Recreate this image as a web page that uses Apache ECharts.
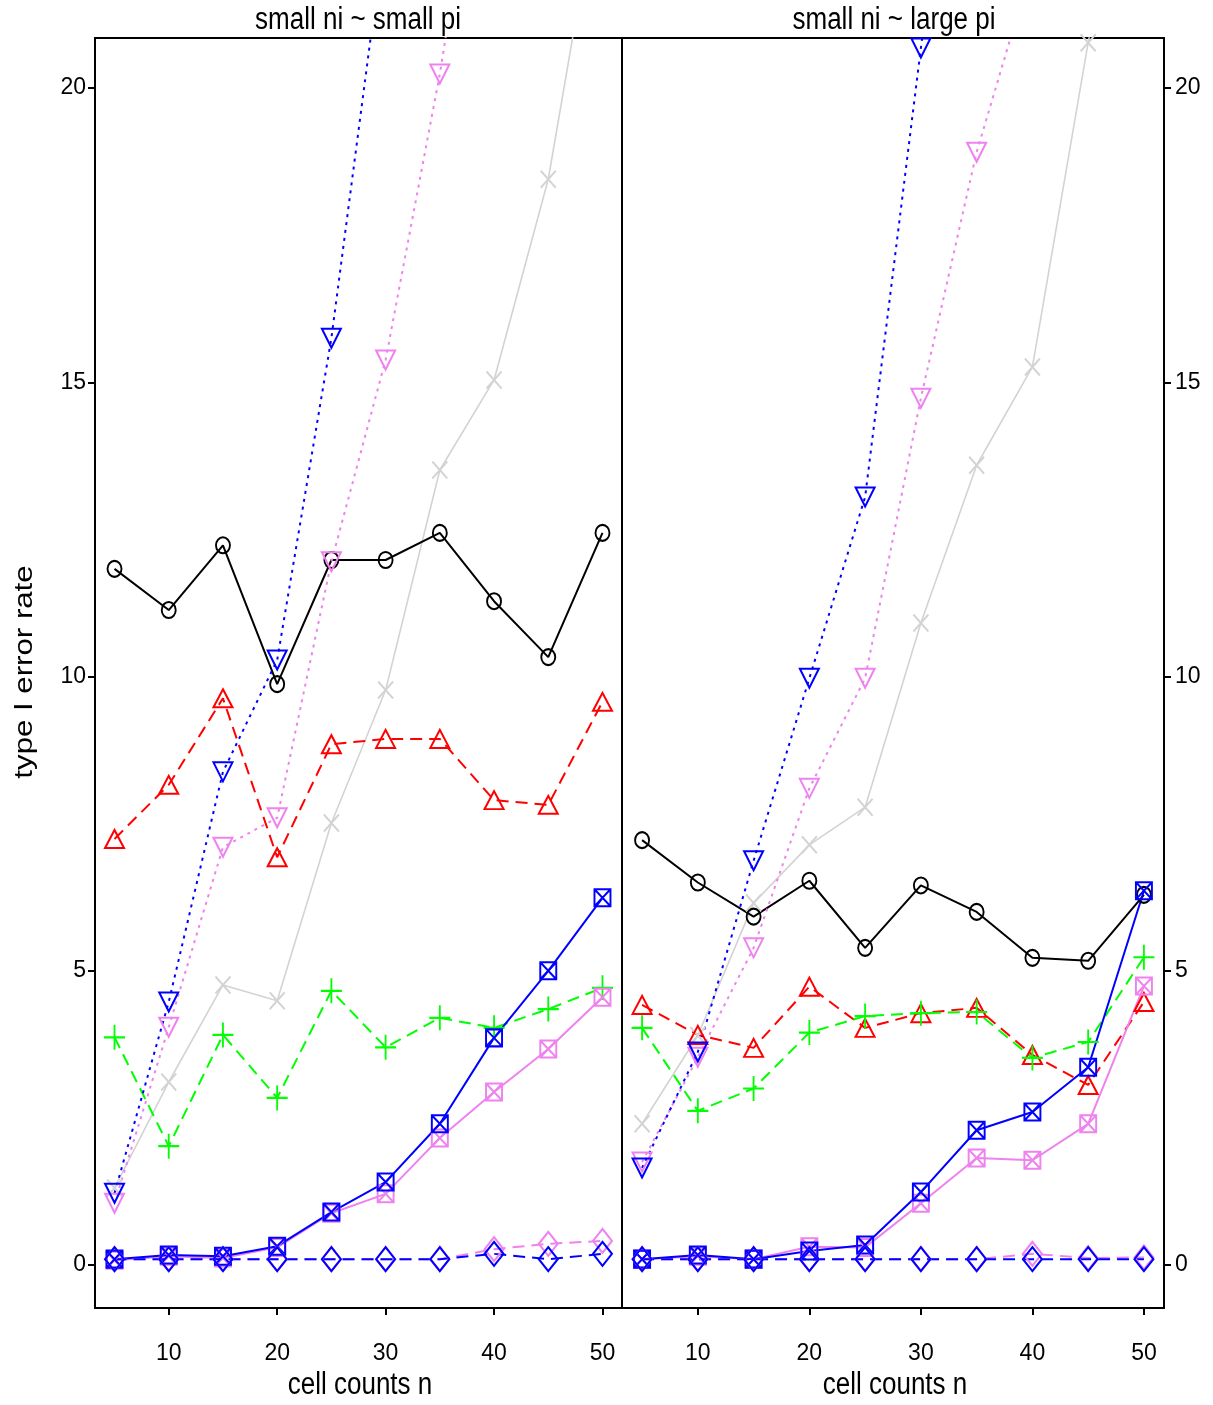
<!DOCTYPE html>
<html>
<head>
<meta charset="utf-8">
<script src="https://cdn.jsdelivr.net/npm/echarts@6/dist/echarts.min.js"></script>
<style>
html,body{margin:0;padding:0;background:#fff;}
#chart{width:1213px;height:1405px;}
</style>
</head>
<body>
<div id="chart"></div>
<script>
// ---------- data ----------
const cellCounts = [5, 10, 15, 20, 25, 30, 35, 40, 45, 50];
const panelTitles = ['small ni ~ small pi', 'small ni ~ large pi'];
const xTickValues = [10, 20, 30, 40, 50];
const yTickValues = [0, 5, 10, 15, 20];

// panel 1: small ni ~ small pi
const leftCircle        = [11.83, 11.13, 12.23, 9.87, 11.98, 11.98, 12.44, 11.28, 10.33, 12.44];
const leftTriangle      = [7.24, 8.16, 9.63, 6.93, 8.85, 8.94, 8.94, 7.90, 7.82, 9.57];
const leftPlus          = [3.87, 2.02, 3.91, 2.84, 4.66, 3.70, 4.20, 4.03, 4.35, 4.71];
const leftDownViolet    = [1.05, 4.04, 7.10, 7.60, 11.95, 15.38, 20.24, 26.0, 32.0, 38.0];
const leftDownBlue      = [1.22, 4.47, 8.38, 10.28, 15.75, 22.8, 29.5, 36.0, 42.0, 48.0];
const leftCross         = [1.31, 3.11, 4.76, 4.49, 7.51, 9.77, 13.51, 15.04, 18.45, 23.8];
const leftSquareViolet  = [0.08, 0.15, 0.12, 0.30, 0.88, 1.21, 2.16, 2.94, 3.67, 4.55];
const leftSquareBlue    = [0.10, 0.17, 0.15, 0.32, 0.90, 1.41, 2.40, 3.86, 5.00, 6.24];
const leftDiamondViolet = [0.10, 0.10, 0.10, 0.10, 0.10, 0.10, 0.10, 0.27, 0.36, 0.41];
const leftDiamondBlue   = [0.10, 0.10, 0.10, 0.10, 0.10, 0.10, 0.10, 0.19, 0.10, 0.19];

// panel 2: small ni ~ large pi
const rightCircle        = [7.22, 6.50, 5.92, 6.53, 5.39, 6.45, 6.00, 5.22, 5.17, 6.29];
const rightTriangle      = [4.42, 3.91, 3.69, 4.73, 4.03, 4.28, 4.37, 3.57, 3.06, 4.47];
const rightPlus          = [4.03, 2.62, 3.00, 3.95, 4.23, 4.28, 4.30, 3.52, 3.79, 5.23];
const rightDownViolet    = [1.75, 3.53, 5.39, 8.10, 9.97, 14.73, 18.91, 22.1, 26.0, 30.0];
const rightDownBlue      = [1.65, 3.62, 6.87, 9.97, 13.05, 20.68, 28.0, 35.0, 42.0, 49.0];
const rightCross         = [2.40, 3.90, 6.15, 7.14, 7.78, 10.91, 13.59, 15.26, 20.77, 26.0];
const rightSquareViolet  = [0.10, 0.15, 0.10, 0.31, 0.30, 1.05, 1.82, 1.78, 2.40, 4.74];
const rightSquareBlue    = [0.10, 0.17, 0.10, 0.24, 0.34, 1.24, 2.29, 2.60, 3.36, 6.36];
const rightDiamondViolet = [0.10, 0.10, 0.10, 0.10, 0.10, 0.10, 0.10, 0.19, 0.12, 0.13];
const rightDiamondBlue   = [0.10, 0.10, 0.10, 0.10, 0.10, 0.10, 0.10, 0.10, 0.10, 0.10];

// ---------- styles ----------
const FONT = "'Liberation Sans', Arial, sans-serif";
const SYM = {
  circle: {symbol: 'circle', size: [14, 16]},
  triUp: {symbol: 'path://M5,0L10,10L0,10Z', size: [19, 18]},
  triDown: {symbol: 'path://M0,0L10,0L5,10Z', size: [19, 19]},
  plus: {symbol: 'path://M5,0L5,10M0,5L10,5', size: [21, 25]},
  cross: {symbol: 'path://M0,0L10,10M10,0L0,10', size: [15, 17]},
  boxX: {symbol: 'path://M0,0L10,0L10,10L0,10ZM0,0L10,10M10,0L0,10', size: [16, 17]},
  diamond: {symbol: 'path://M5,0L10,5L5,10L0,5Z', size: [19, 24]}
};
const DASH = [12, 7];
const DOT = [3, 5];

function mk(vals, gi, color, lineType, lw, sym) {
  const s = SYM[sym];
  return {
    type: 'line',
    xAxisIndex: gi, yAxisIndex: gi,
    data: cellCounts.map((n, i) => [n, vals[i]]),
    symbol: s.symbol,
    symbolSize: s.size,
    showAllSymbol: true,
    clip: true,
    lineStyle: {color: color, width: lw, type: lineType},
    itemStyle: {color: 'rgba(0,0,0,0)', borderColor: color, borderWidth: 2},
    emphasis: {disabled: true},
    silent: true,
    animation: false
  };
}

function panelSeries(gi, d) {
  return [
    mk(d.cross, gi, '#D3D3D3', 'solid', 1.6, 'cross'),
    mk(d.circle, gi, '#000000', 'solid', 2, 'circle'),
    mk(d.tri, gi, '#FF0000', DASH, 2, 'triUp'),
    mk(d.plus, gi, '#00FF00', DASH, 2, 'plus'),
    mk(d.downV, gi, '#EE82EE', DOT, 2, 'triDown'),
    mk(d.downB, gi, '#0000FF', DOT, 2, 'triDown'),
    mk(d.sqV, gi, '#EE82EE', 'solid', 2, 'boxX'),
    mk(d.sqB, gi, '#0000FF', 'solid', 2, 'boxX'),
    mk(d.diV, gi, '#EE82EE', DASH, 2, 'diamond'),
    mk(d.diB, gi, '#0000FF', DASH, 2, 'diamond')
  ];
}

const series = [].concat(
  panelSeries(0, {circle: leftCircle, tri: leftTriangle, plus: leftPlus, downV: leftDownViolet, downB: leftDownBlue,
    cross: leftCross, sqV: leftSquareViolet, sqB: leftSquareBlue, diV: leftDiamondViolet, diB: leftDiamondBlue}),
  panelSeries(1, {circle: rightCircle, tri: rightTriangle, plus: rightPlus, downV: rightDownViolet, downB: rightDownBlue,
    cross: rightCross, sqV: rightSquareViolet, sqB: rightSquareBlue, diV: rightDiamondViolet, diB: rightDiamondBlue})
);

function xAx(gi) {
  return {
    type: 'value', gridIndex: gi, min: 3.2, max: 51.8, position: 'bottom',
    splitLine: {show: false},
    axisLine: {show: false, onZero: false},
    axisTick: {show: true, inside: false, length: 7, lineStyle: {color: '#000', width: 2}, customValues: xTickValues},
    axisLabel: {show: true, margin: 34, fontFamily: FONT, fontSize: 23, color: '#000', customValues: xTickValues}
  };
}
function yAx(gi, pos) {
  return {
    type: 'value', gridIndex: gi, min: -0.73, max: 20.85, position: pos,
    splitLine: {show: false},
    axisLine: {show: false, onZero: false},
    axisTick: {show: true, inside: false, length: 7, lineStyle: {color: '#000', width: 2}, customValues: yTickValues},
    axisLabel: {show: true, margin: pos === 'left' ? 9 : 11, fontFamily: FONT, fontSize: 23, color: '#000', customValues: yTickValues}
  };
}

function txt(x, y, s, rot) {
  return {type: 'text', x: x, y: y, rotation: rot || 0, scaleX: 1, scaleY: rot ? 1 : 1.2,
    style: {text: s, font: '26px ' + FONT, fill: '#000', align: 'center', verticalAlign: 'middle'}};
}

const chart = echarts.init(document.getElementById('chart'), null, {renderer: 'canvas'});
chart.setOption({
  backgroundColor: '#ffffff',
  animation: false,
  grid: [
    {left: 95, top: 38, width: 527, height: 1270, show: true, borderColor: '#000', borderWidth: 2, backgroundColor: 'transparent'},
    {left: 622, top: 38, width: 542, height: 1270, show: true, borderColor: '#000', borderWidth: 2, backgroundColor: 'transparent'}
  ],
  xAxis: [xAx(0), xAx(1)],
  yAxis: [yAx(0, 'left'), yAx(1, 'right')],
  series: series,
  graphic: [
    txt(358, 20, panelTitles[0]),
    txt(894, 20, panelTitles[1]),
    txt(360, 1385, 'cell counts n'),
    txt(895, 1385, 'cell counts n'),
    {type: 'text', x: 25, y: 672, rotation: Math.PI / 2, scaleX: 1.2, scaleY: 1,
      style: {text: 'type I error rate', font: '26px ' + FONT, fill: '#000', align: 'center', verticalAlign: 'middle'}}
  ]
});
</script>
</body>
</html>
